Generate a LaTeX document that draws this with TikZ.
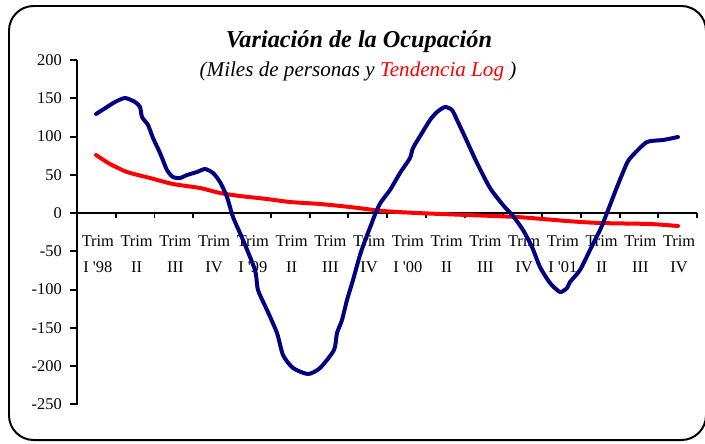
\documentclass[tikz,border=0pt]{standalone}
\usepackage{fontspec}
\setmainfont{Liberation Serif}[
    Ligatures=TeXOff,
    ItalicFont=Liberation Serif Italic,
    BoldFont=Liberation Serif Bold,
    BoldItalicFont=Liberation Serif Bold Italic]
\definecolor{blu}{RGB}{0,0,128}
\definecolor{rosso}{RGB}{255,0,0}

\begin{document}
\begin{tikzpicture}[x=0.03cm, y=-0.03cm,
    asse/.style={line width=1.7pt},
    etichetta/.style={font=\fontsize{14}{16}\selectfont, inner sep=0pt},
    serie/.style={line width=3.4pt, line join=round, line cap=round}]

\useasboundingbox (0,0) rectangle (705,443);

% Cornice
\draw[line width=1.7pt, rounded corners=21pt] (9,6) rectangle (706,440);

% Titolo
\node[font=\fontsize{20.7}{24}\selectfont\bfseries\itshape, anchor=base] (titolo) at (359,47) {Variación de la Ocupación};
\node[font=\fontsize{18}{20}\selectfont\itshape, anchor=base] (sottotitolo) at (358,76) {(Miles de personas y \textcolor{rosso}{Tendencia Log} )};

% Assi
\draw[asse] (77,60) -- (77,405); % asse verticale
\draw[asse] (77,213) -- (697,213); % asse orizzontale

\foreach \v [count=\k] in {200,150,...,-250} {
    \draw[asse] (70,{213-0.765*\v}) -- (77,{213-0.765*\v});
    \node[etichetta, anchor=east] (val\k) at (62,{213-0.765*\v}) {\v};
}

\foreach \i in {0,...,16}
    \draw[asse] ({77+38.75*\i},213) -- ({77+38.75*\i},218);

% Etichette dei trimestri
\foreach \t [count=\i] in {I '98,II,III,IV,I '99,II,III,IV,I '00,II,III,IV,I '01,II,III,IV} {
    \node[etichetta, anchor=base] (trim\i) at ({77+38.75*(\i-0.5)+1.5},246) {Trim};
    \node[etichetta, anchor=base] (trim\i b) at ({77+38.75*(\i-0.5)+1.5},272) {\t};
}

% Tendenza (rossa)
\draw[serie, rosso] plot[smooth, tension=0.4] coordinates {
    (96,155) (110,164) (127,172) (150,178) (173,184) (200,188) (220,193)
    (240,196) (267,199) (290,202) (320,204) (350,207) (383,211) (417,213)
    (467,215) (517,217) (567,221) (600,223) (650,224) (678,226)};

% Occupazione (blu)
\draw[serie, blu] plot[smooth, tension=0.4] coordinates {
    (96,114) (107,107) (115,102) (125,98) (135,102) (140,107) (142,117)
    (148,125) (153,138) (160,153) (167,170) (173,177) (180,178) (187,175)
    (197,172) (205,169) (213,173) (220,182) (227,197) (233,217) (243,240)
    (255,270) (258,290) (267,310) (277,333) (283,355) (293,368) (308,374)
    (320,368) (334,350) (337,333) (342,320) (347,300) (353,280) (360,255)
    (366,238) (371,225) (376,212) (381,202) (390,190) (400,173) (410,158)
    (413,148) (422,133) (430,120) (437,112) (445,107) (452,110) (457,120)
    (465,137) (477,163) (490,188) (503,205) (513,216) (523,230) (532,247)
    (540,267) (550,283) (560,292) (567,288) (570,282) (580,270) (590,250)
    (600,230) (605,218) (617,187) (627,163) (633,155) (647,142) (663,140)
    (678,137)};

\end{tikzpicture}
\end{document}
